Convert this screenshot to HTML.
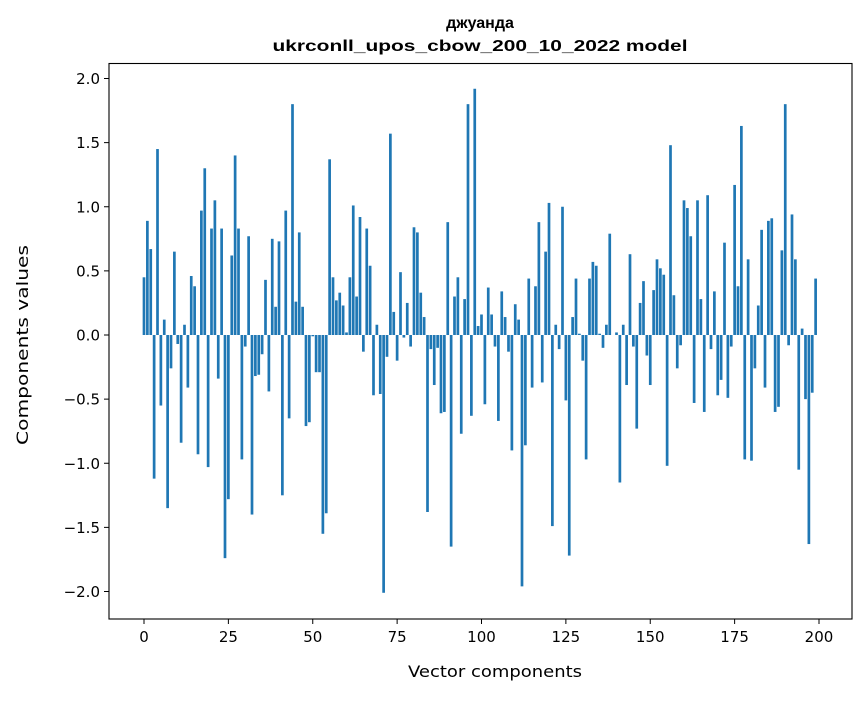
<!DOCTYPE html>
<html><head><meta charset="utf-8"><style>
body{margin:0;background:#fff;}
svg text{font-family:"DejaVu Sans","Liberation Sans",sans-serif;fill:#000;}
</style></head><body>
<svg id="chart" width="867" height="696">
<rect width="867" height="696" fill="#fff"/>
<text x="480" y="28" text-anchor="middle" font-size="16" font-weight="bold" style="font-family:'Liberation Sans',sans-serif">джуанда</text>
<text x="480" y="51" text-anchor="middle" font-size="16" font-weight="bold" textLength="415" lengthAdjust="spacingAndGlyphs" style="font-family:'Liberation Sans',sans-serif">ukrconll_upos_cbow_200_10_2022 model</text>
<g id="bars"></g>
<g id="axes"></g>
<text x="495" y="677" text-anchor="middle" font-size="16" textLength="174" lengthAdjust="spacingAndGlyphs">Vector components</text>
<text transform="translate(28,345) rotate(-90)" text-anchor="middle" font-size="16" textLength="200" lengthAdjust="spacingAndGlyphs">Components values</text>
</svg>
<script>
const values = [0.45,0.89,0.67,-1.12,1.45,-0.55,0.12,-1.35,-0.26,0.65,
-0.07,-0.84,0.08,-0.41,0.46,0.38,-0.93,0.97,1.30,-1.03,
0.83,1.05,-0.34,0.83,-1.74,-1.28,0.62,1.40,0.83,-0.97,
-0.09,0.77,-1.40,-0.32,-0.31,-0.15,0.43,-0.44,0.75,0.22,
0.73,-1.25,0.97,-0.65,1.80,0.26,0.80,0.22,-0.71,-0.68,
-0.01,-0.29,-0.29,-1.55,-1.39,1.37,0.45,0.27,0.33,0.23,
0.02,0.45,1.01,0.30,0.92,-0.13,0.83,0.54,-0.47,0.08,
-0.46,-2.01,-0.17,1.57,0.18,-0.20,0.49,-0.02,0.25,-0.09,
0.84,0.80,0.33,0.14,-1.38,-0.11,-0.39,-0.10,-0.61,-0.60,
0.88,-1.65,0.30,0.45,-0.77,0.28,1.80,-0.63,1.92,0.07,
0.16,-0.54,0.37,0.16,-0.09,-0.67,0.34,0.14,-0.13,-0.90,
0.24,0.12,-1.96,-0.86,0.44,-0.41,0.38,0.88,-0.37,0.65,
1.03,-1.49,0.08,-0.11,1.00,-0.51,-1.72,0.14,0.44,0.01,
-0.20,-0.97,0.44,0.57,0.54,0.01,-0.10,0.08,0.79,0.00,
0.02,-1.15,0.08,-0.39,0.63,-0.09,-0.73,0.25,0.42,-0.16,
-0.39,0.35,0.59,0.52,0.47,-1.02,1.48,0.31,-0.26,-0.08,
1.05,0.99,0.77,-0.53,1.05,0.28,-0.60,1.09,-0.11,0.34,
-0.47,-0.35,0.72,-0.49,-0.09,1.17,0.38,1.63,-0.97,0.59,
-0.98,-0.26,0.23,0.82,-0.41,0.89,0.91,-0.60,-0.56,0.66,
1.80,-0.08,0.94,0.59,-1.05,0.05,-0.50,-1.63,-0.45,0.44];
const xTicks = [0,25,50,75,100,125,150,175,200];
const yTicks = [-2.0,-1.5,-1.0,-0.5,0.0,0.5,1.0,1.5,2.0];
const NS="http://www.w3.org/2000/svg";
const X0=144, XS=3.375, Y0=335, YS=128.25;
const L=109, R=852, T=63.5, B=619;
function xs(v){return X0+v*XS;}
function ys(v){return Y0-v*YS;}
function mk(tag,attrs,parent){const e=document.createElementNS(NS,tag);for(const k in attrs)e.setAttribute(k,attrs[k]);parent.appendChild(e);return e;}
const gb=document.getElementById('bars');
values.forEach((v,i)=>{
  const y1=ys(Math.max(v,0)), y2=ys(Math.min(v,0));
  const r=mk('rect',{x:xs(i-0.4),y:y1,width:0.8*XS,height:Math.max(y2-y1,0.01),fill:'#1f77b4'},gb);
  
  
});
const ga=document.getElementById('axes');
const frame=mk('rect',{x:L,y:T,width:R-L,height:B-T,fill:'none',stroke:'#000','stroke-width':1.1},ga);


xTicks.forEach(t=>{
  const x=xs(t);
  mk('line',{x1:x,x2:x,y1:B,y2:B+5,stroke:'#000','stroke-width':1},ga);
  const tx=mk('text',{x:x,y:B+23,'text-anchor':'middle','font-size':15},ga);
  tx.textContent=t;
  
  
});
yTicks.forEach(t=>{
  const y=ys(t);
  mk('line',{x1:L-5,x2:L,y1:y,y2:y,stroke:'#000','stroke-width':1},ga);
  const tx=mk('text',{x:L-9,y:y+5.5,'text-anchor':'end','font-size':15},ga);
  tx.textContent=(t<0?'\u2212':'')+Math.abs(t).toFixed(1);
  
  
});
</script>
</body></html>
